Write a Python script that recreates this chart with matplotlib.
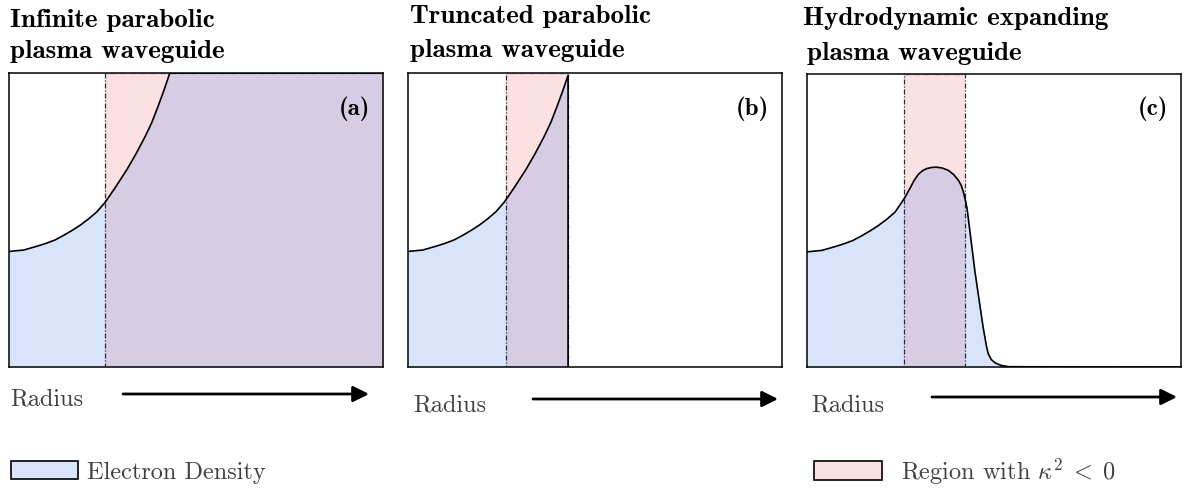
import matplotlib
matplotlib.use('Agg')
import matplotlib.pyplot as plt
from matplotlib.patches import Patch, FancyArrowPatch

plt.rcParams['mathtext.fontset'] = 'cm'

# electron density profiles (radius, density), arbitrary units 0..10
para_r = [0, 0.4, 0.78, 1.0, 1.23, 1.45, 1.68, 1.9, 2.13, 2.35, 2.57, 2.85,
          3.15, 3.4, 3.64, 3.82, 3.99, 4.14, 4.30, 10.0]
para_n = [3.93, 3.98, 4.12, 4.21, 4.32, 4.47, 4.64, 4.82, 5.04, 5.28, 5.60, 6.12,
          6.71, 7.26, 7.84, 8.32, 8.88, 9.40, 10.0, 10.0]

trunc_r = [0, 0.4, 0.78, 1.0, 1.23, 1.45, 1.68, 1.9, 2.13, 2.35, 2.57, 2.85,
           3.15, 3.4, 3.64, 3.82, 3.99, 4.14, 4.28]
trunc_n = [3.93, 3.98, 4.12, 4.21, 4.32, 4.47, 4.64, 4.82, 5.04, 5.28, 5.60, 6.12,
           6.71, 7.26, 7.84, 8.32, 8.88, 9.40, 9.92]

hydro_r = [0, 0.4, 0.78, 1.0, 1.23, 1.45, 1.68, 1.9, 2.13, 2.35, 2.48, 2.61,
           2.75, 2.87, 2.98, 3.1, 3.2, 3.33, 3.47, 3.62, 3.78, 3.92, 4.05, 4.13,
           4.18, 4.23, 4.28, 4.49, 4.71, 4.80, 4.85, 4.93, 5.03, 5.2, 5.39, 10.0]
hydro_n = [3.93, 3.98, 4.12, 4.21, 4.32, 4.47, 4.64, 4.82, 5.04, 5.28, 5.52, 5.77,
           6.09, 6.38, 6.58, 6.71, 6.77, 6.81, 6.82, 6.79, 6.71, 6.57, 6.37, 6.18,
           5.98, 5.72, 5.41, 3.26, 1.35, 0.70, 0.44, 0.25, 0.14, 0.05, 0.01, 0]

# regions where kappa^2 < 0
band_a = (2.57, 10.0)
band_b = (2.62, 4.28)
band_c = (2.59, 4.22)

titles = ['Infinite parabolic\nplasma waveguide',
          'Truncated parabolic\nplasma waveguide',
          'Hydrodynamic expanding\nplasma waveguide']
labels = ['(a)', '(b)', '(c)']

blue = (0.39, 0.58, 0.93, 0.25)
pink = '#fde0e1'
edge = '#2a2a3a'

W, H = 1186, 489
fig = plt.figure(figsize=(W / 100, H / 100), dpi=100)


def fx(px):
    return px / W


def fy(py):
    return 1 - py / H


def make_ax(left, right, top, bottom):
    ax = fig.add_axes([fx(left), fy(bottom), fx(right - left), (bottom - top) / H])
    ax.set_xlim(0, 10)
    ax.set_ylim(0, 10)
    ax.set_xticks([])
    ax.set_yticks([])
    for s in ax.spines.values():
        s.set_linewidth(1.1)
    return ax


def band(ax, lo, hi):
    ax.axvspan(lo, hi, fc=pink, ec='none', zorder=1)
    ax.axvspan(lo, hi, fc='none', ec=edge, ls=(0, (4, 1.5, 1, 1.5)), lw=0.9, zorder=3)


axes = [make_ax(9, 383, 74, 368), make_ax(408, 782, 74, 368), make_ax(807, 1181, 75, 368)]

# (a) infinite parabola
ax = axes[0]
band(ax, *band_a)
ax.fill_between(para_r, 0, para_n, color=blue, lw=0, zorder=2)
ax.plot(para_r, para_n, color='k', lw=1.2, zorder=4)

# (b) truncated parabola
ax = axes[1]
band(ax, *band_b)
ax.fill_between(trunc_r, 0, trunc_n, color=blue, lw=0, zorder=2)
ax.plot(trunc_r + [trunc_r[-1]], trunc_n + [0], color='k', lw=1.2, zorder=4)

# (c) hydrodynamic channel
ax = axes[2]
band(ax, *band_c)
ax.fill_between(hydro_r, 0, hydro_n, color=blue, lw=0, zorder=2)
ax.plot(hydro_r, hydro_n, color='k', lw=1.2, zorder=4)

for ax, lab in zip(axes, labels):
    ax.text(0.965, 0.925, lab, transform=ax.transAxes, ha='right', va='top',
            fontsize=18, family='cmb10', zorder=5)

# titles
title_pos = [((10, 27), (10, 58)), ((410, 23), (410, 57)), ((803, 25), (807, 60))]
for t, pos in zip(titles, title_pos):
    for line, (x, y) in zip(t.split('\n'), pos):
        fig.text(fx(x), fy(y), line, ha='left', va='baseline',
                 fontsize=19.5, family='cmb10')

# radius labels and arrows
radius_pos = [(10, 406), (413, 411), (811, 412)]
arrow_pos = [(123, 369, 395), (533, 778, 400), (932, 1177, 398)]
for (x, y) in radius_pos:
    fig.text(fx(x), fy(y), 'Radius', ha='left', va='baseline',
             fontsize=17.5, family='cmr10', color='#404040')
for (x0, x1, y) in arrow_pos:
    arr = FancyArrowPatch((fx(x0), fy(y)), (fx(x1), fy(y)), transform=fig.transFigure,
                          arrowstyle='-|>,head_length=0.6,head_width=0.3',
                          mutation_scale=16, lw=2, color='k',
                          shrinkA=0, shrinkB=0)
    fig.add_artist(arr)

# legends
h1 = Patch(fc=blue, ec='k', lw=1.2)
h2 = Patch(fc=pink, ec='k', lw=1.2)
leg1 = fig.legend([h1], ['Electron Density'], loc='center left',
                  bbox_to_anchor=(fx(11), fy(473)), frameon=False,
                  borderpad=0, borderaxespad=0, handlelength=2.75,
                  handleheight=0.82, handletextpad=0.37,
                  prop={'family': 'cmr10', 'size': 17.5})
leg2 = fig.legend([h2], [r'Region with $\kappa^2\;<\;0$'], loc='center left',
                  bbox_to_anchor=(fx(814), fy(471.5)), frameon=False,
                  borderpad=0, borderaxespad=0, handlelength=2.8,
                  handleheight=0.82, handletextpad=0.78,
                  prop={'family': 'cmr10', 'size': 17.5})
for leg in (leg1, leg2):
    for txt in leg.get_texts():
        txt.set_color('#404040')

fig.savefig('out.png', dpi=100)
